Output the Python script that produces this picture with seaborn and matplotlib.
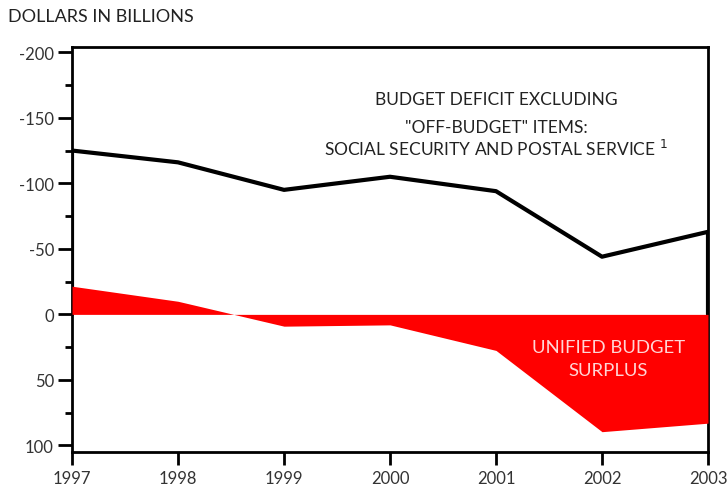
import matplotlib
matplotlib.use("Agg")
import matplotlib.pyplot as plt
import seaborn as sns
import numpy as np
import pandas as pd
from matplotlib.ticker import MultipleLocator

years = [1997, 1998, 1999, 2000, 2001, 2002, 2003]
deficit_excl_offbudget = [-125, -116, -95, -105, -94, -44, -63]
unified_surplus = [-21.5, -10, 9, 8, 27.5, 89.5, 83]
y_ticks = [-200, -150, -100, -50, 0, 50, 100]

sns.set_theme(style="white")
plt.rcParams['font.family'] = ['Lato', 'DejaVu Sans']
plt.rcParams['axes.unicode_minus'] = False

fig = plt.figure(figsize=(7.28, 4.89), dpi=100)
ax = fig.add_axes([72/728, 1-453/489, (708-72)/728, (453-48)/489])

# line with vertical drops to zero at both ends
line_x = [years[0]] + years + [years[-1]]
line_y = [0] + deficit_excl_offbudget + [0]
df_line = pd.DataFrame({"year": line_x, "value": line_y})
sns.lineplot(data=df_line, x="year", y="value", sort=False, color="black",
             linewidth=3, ax=ax, estimator=None)

ax.fill_between(years, 0, unified_surplus, color="#ff0000", linewidth=0, zorder=3)

ax.set_xlim(1997, 2003)
ax.set_ylim(105, -204)
ax.set_xticks(years)
ax.set_yticks(y_ticks)
ax.yaxis.set_minor_locator(MultipleLocator(25))
ax.set_xlabel("")
ax.set_ylabel("")

for s in ax.spines.values():
    s.set_color("black")
    s.set_linewidth(2)

ax.tick_params(axis="y", which="major", direction="out", length=10, width=2,
               color="black", labelsize=12, labelcolor="#333333", pad=3, left=True)
ax.tick_params(axis="y", which="minor", direction="out", length=5, width=2,
               color="black", left=True)
ax.tick_params(axis="x", which="major", direction="out", length=9, width=2,
               color="black", labelsize=12, labelcolor="#333333", pad=4, bottom=True)

fig.text(8/728, 1-17/489, "DOLLARS IN BILLIONS", fontsize=13, color="#222222",
         ha="left", va="center")

ax.text(2001.0, -164, "BUDGET DEFICIT EXCLUDING", ha="center", va="center",
        fontsize=12.5, color="#222222")
ax.text(2001.0, -143, "\"OFF-BUDGET\" ITEMS:", ha="center", va="center",
        fontsize=12.5, color="#222222")
ax.text(2001.0, -127, "SOCIAL SECURITY AND POSTAL SERVICE $^{1}$", ha="center", va="center",
        fontsize=12.5, color="#222222")

ax.text(2002.06, 25, "UNIFIED BUDGET", ha="center", va="center",
        fontsize=13.3, color="#ffd6d6", zorder=5)
ax.text(2002.06, 42.5, "SURPLUS", ha="center", va="center",
        fontsize=13.3, color="#ffd6d6", zorder=5)

fig.savefig("out.png", dpi=100)
